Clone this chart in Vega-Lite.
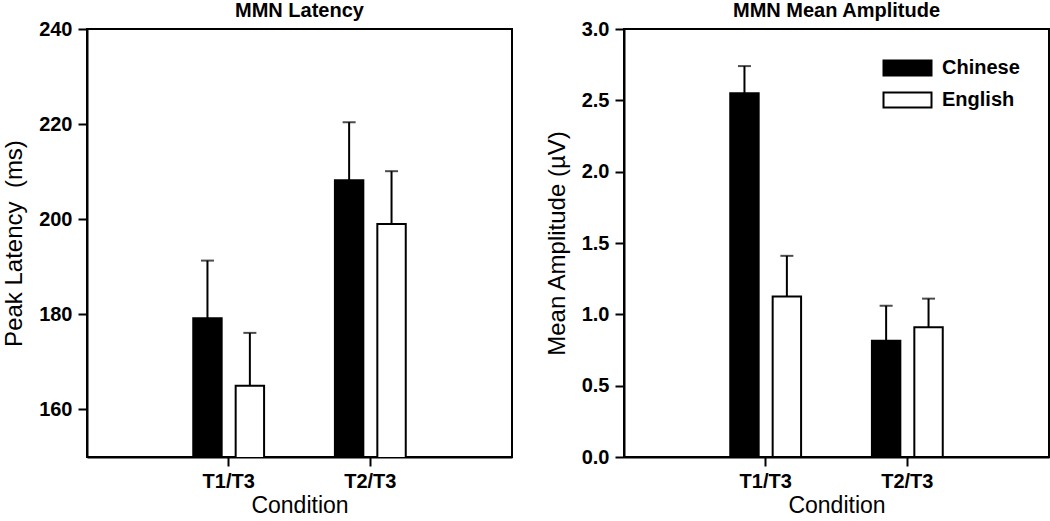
{
  "$schema": "https://vega.github.io/schema/vega-lite/v6.json",
  "padding": {"left": 1, "top": 0, "right": 0, "bottom": 0},
  "background": "white",
  "datasets": {
    "latency": [
      {"cond": "T1/T3", "lang": "Chinese", "mean": 179.2, "upper": 191.3},
      {"cond": "T1/T3", "lang": "English", "mean": 165.0, "upper": 176.1},
      {"cond": "T2/T3", "lang": "Chinese", "mean": 208.2, "upper": 220.4},
      {"cond": "T2/T3", "lang": "English", "mean": 199.0, "upper": 210.1}
    ],
    "amplitude": [
      {"cond": "T1/T3", "lang": "Chinese", "mean": 2.55, "upper": 2.74},
      {"cond": "T1/T3", "lang": "English", "mean": 1.125, "upper": 1.41},
      {"cond": "T2/T3", "lang": "Chinese", "mean": 0.815, "upper": 1.06},
      {"cond": "T2/T3", "lang": "English", "mean": 0.91, "upper": 1.11}
    ]
  },
  "spacing": 31,
  "resolve": {"legend": {"fill": "independent"}},
  "hconcat": [
    {
      "title": "MMN Latency",
      "width": 425,
      "height": 428,
      "data": {"name": "latency"},
      "encoding": {
        "x": {"field": "cond", "type": "nominal", "title": "Condition",
              "scale": {"paddingInner": 0.5, "paddingOuter": 0.75},
              "axis": {"labelAngle": 0}},
        "xOffset": {"field": "lang", "type": "nominal", "sort": ["Chinese", "English"],
                    "scale": {"paddingInner": 0.33, "paddingOuter": 0}}
      },
      "layer": [
        {
          "mark": {"type": "bar", "stroke": "black", "strokeWidth": 2, "clip": true},
          "encoding": {
            "y": {"field": "mean", "type": "quantitative", "title": "Peak Latency\u00a0 (ms)",
                  "scale": {"domain": [150, 240], "zero": false, "nice": false},
                  "axis": {"values": [160, 180, 200, 220, 240]}},
            "fill": {"field": "lang", "type": "nominal",
                     "scale": {"domain": ["Chinese", "English"], "range": ["black", "white"]},
                     "legend": null}
          }
        },
        {
          "mark": {"type": "rule", "color": "black", "strokeWidth": 2},
          "encoding": {
            "y": {"field": "mean", "type": "quantitative", "title": "Peak Latency\u00a0 (ms)",
                  "axis": {"values": [160, 180, 200, 220, 240]}},
            "y2": {"field": "upper"}
          }
        },
        {
          "mark": {"type": "tick", "color": "black", "size": 13, "thickness": 2},
          "encoding": {
            "y": {"field": "upper", "type": "quantitative", "title": "Peak Latency\u00a0 (ms)",
                  "axis": {"values": [160, 180, 200, 220, 240]}}
          }
        }
      ]
    },
    {
      "title": "MMN Mean Amplitude",
      "width": 425,
      "height": 428,
      "data": {"name": "amplitude"},
      "encoding": {
        "x": {"field": "cond", "type": "nominal", "title": "Condition",
              "scale": {"paddingInner": 0.5, "paddingOuter": 0.75},
              "axis": {"labelAngle": 0}},
        "xOffset": {"field": "lang", "type": "nominal", "sort": ["Chinese", "English"],
                    "scale": {"paddingInner": 0.33, "paddingOuter": 0}}
      },
      "layer": [
        {
          "mark": {"type": "bar", "stroke": "black", "strokeWidth": 2},
          "encoding": {
            "y": {"field": "mean", "type": "quantitative", "title": "Mean Amplitude (µV)",
                  "scale": {"domain": [0, 3], "nice": false},
                  "axis": {"values": [0, 0.5, 1, 1.5, 2, 2.5, 3], "format": ".1f"}},
            "fill": {"field": "lang", "type": "nominal",
                     "scale": {"domain": ["Chinese", "English"], "range": ["black", "white"]},
                     "legend": {"title": null, "orient": "top-right", "offset": 29,
                                "symbolType": "M-1,-1H5.4V1H-1Z", "symbolSize": 225,
                                "symbolStrokeColor": "black", "symbolStrokeWidth": 2,
                                "labelOffset": 41, "rowPadding": 8,
                                "labelFont": "Liberation Sans", "labelFontSize": 20,
                                "labelFontWeight": "bold", "labelColor": "black"}}
          }
        },
        {
          "mark": {"type": "rule", "color": "black", "strokeWidth": 2},
          "encoding": {
            "y": {"field": "mean", "type": "quantitative", "title": "Mean Amplitude (µV)",
                  "axis": {"values": [0, 0.5, 1, 1.5, 2, 2.5, 3], "format": ".1f"}},
            "y2": {"field": "upper"}
          }
        },
        {
          "mark": {"type": "tick", "color": "black", "size": 13, "thickness": 2},
          "encoding": {
            "y": {"field": "upper", "type": "quantitative", "title": "Mean Amplitude (µV)",
                  "axis": {"values": [0, 0.5, 1, 1.5, 2, 2.5, 3], "format": ".1f"}}
          }
        }
      ]
    }
  ],
  "config": {
    "view": {"stroke": "black", "strokeWidth": 2},
    "title": {"font": "Liberation Sans", "fontSize": 20, "fontWeight": "bold", "color": "black", "offset": -2},
    "axis": {
      "grid": false,
      "labelFont": "Liberation Sans", "labelFontSize": 20, "labelFontWeight": "bold", "labelColor": "black",
      "labelPadding": 6,
      "titleFont": "Liberation Sans", "titleFontSize": 24, "titleFontWeight": "normal", "titleColor": "black",
      "domainColor": "black", "domainWidth": 2,
      "tickColor": "black", "tickWidth": 2, "tickSize": 9
    },
    "axisX": {"labelPadding": 5, "titlePadding": 3, "titleFontSize": 23},
    "axisY": {"titlePadding": 12}
  }
}
